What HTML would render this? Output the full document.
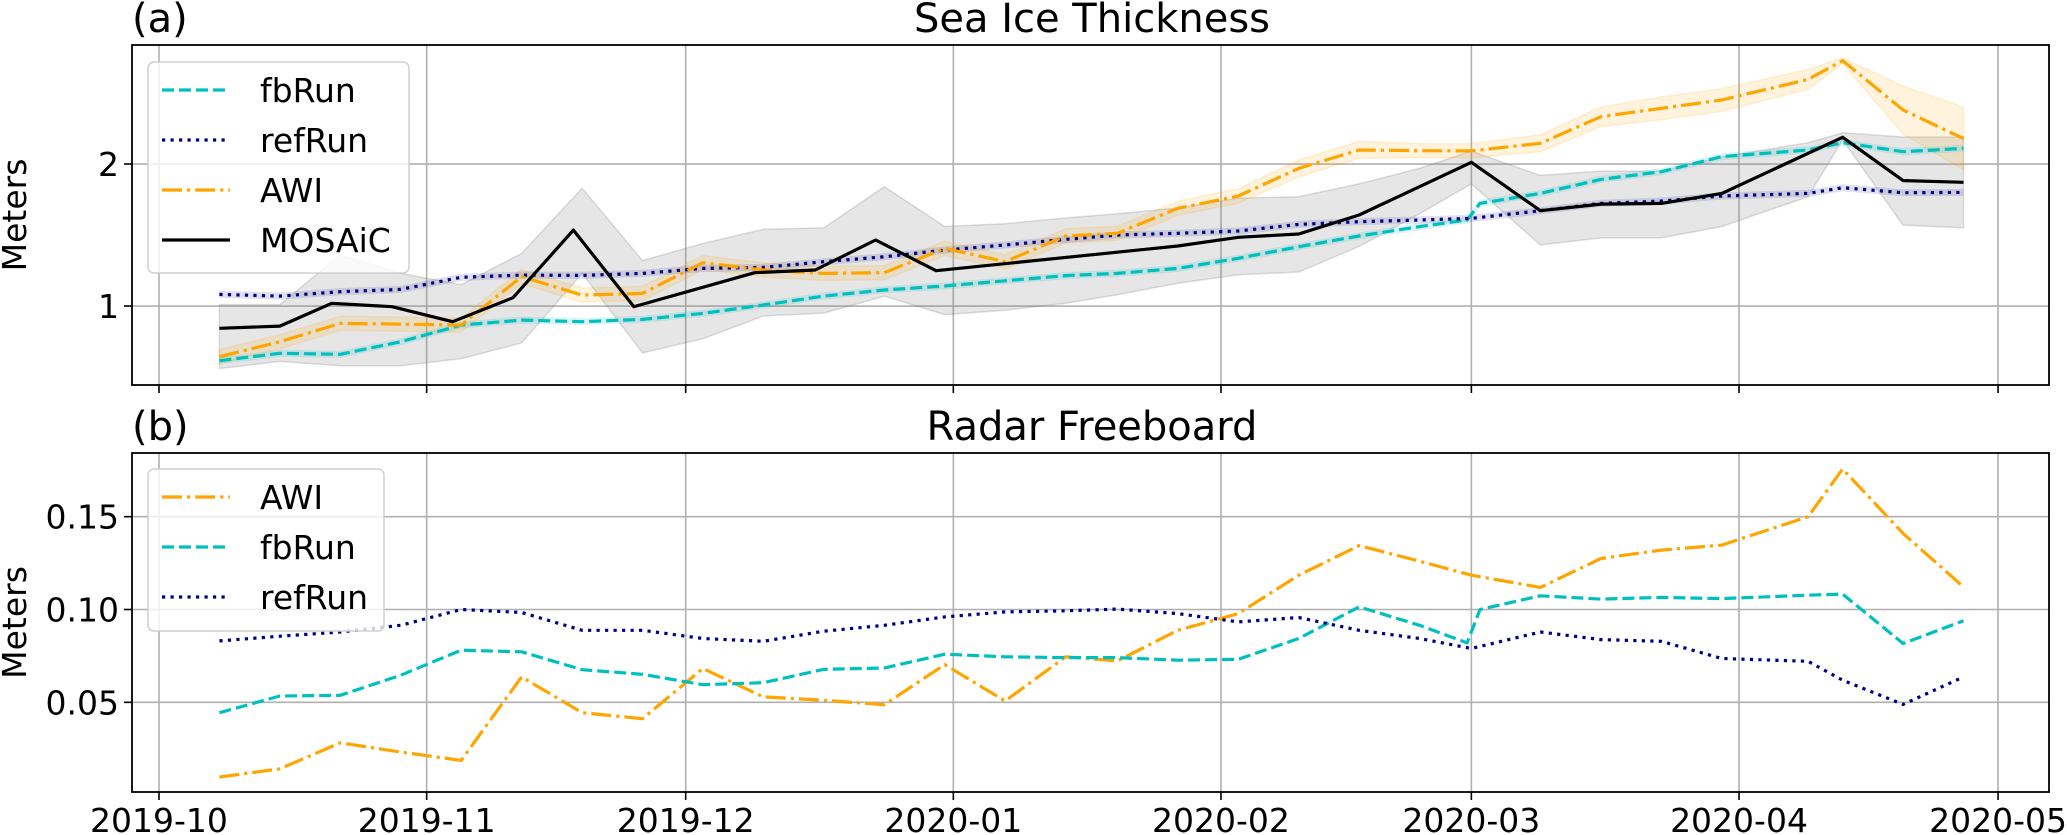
<!DOCTYPE html>
<html><head><meta charset="utf-8"><style>
html,body{margin:0;padding:0;background:#fff;}
svg{display:block;font-family:"DejaVu Sans","Liberation Sans",sans-serif;}
</style></head><body>
<svg id="chart" width="2067" height="835" viewBox="0 0 2067 835" xmlns="http://www.w3.org/2000/svg"></svg>
<script>
// ---- data (days since 2019-10-01) ----
const tickLabels = ["2019-10","2019-11","2019-12","2020-01","2020-02","2020-03","2020-04","2020-05"];
const tickDays = [0,31,61,92,123,152,183,213];
const modelDays = [7,14,21,28,35,42,49,56,63,70,77,84,91,98,105,111,118,125,132,139,146,152,160,167,174,181,191,195,202,209];
const fbDays = [7,14,21,28,35,42,49,56,63,70,77,84,91,98,105,111,118,125,132,139,146,151.5,153,160,167,174,181,191,195,202,209];
const mosaicDays = [7,14,20,27,34,41,48,55,69,76,83,90,118,125,132,139,152,160,167,174,181,195,202,209];

const thickFb = [0.615,0.667,0.66,0.749,0.866,0.901,0.89,0.906,0.948,1.007,1.07,1.113,1.141,1.178,1.214,1.23,1.265,1.336,1.418,1.493,1.559,1.606,1.723,1.793,1.892,1.946,2.052,2.099,2.15,2.087,2.11];
const thickRef = [1.082,1.07,1.101,1.117,1.202,1.218,1.216,1.23,1.265,1.272,1.312,1.347,1.394,1.43,1.469,1.5,1.512,1.528,1.575,1.594,1.606,1.617,1.671,1.723,1.739,1.775,1.793,1.833,1.798,1.8];
const thickAwi = [0.643,0.749,0.878,0.873,0.866,1.207,1.077,1.089,1.305,1.254,1.23,1.235,1.406,1.312,1.493,1.512,1.688,1.775,1.969,2.099,2.094,2.092,2.146,2.333,2.392,2.451,2.596,2.728,2.38,2.18];
const awiSpread = [0.05,0.05,0.05,0.05,0.05,0.05,0.05,0.05,0.05,0.05,0.05,0.05,0.05,0.05,0.05,0.05,0.05,0.05,0.06,0.06,0.05,0.05,0.06,0.07,0.08,0.08,0.07,0.02,0.17,0.22];
const thickMosaic = [0.843,0.859,1.019,0.995,0.890,1.059,1.535,0.995,1.235,1.254,1.465,1.249,1.423,1.484,1.507,1.641,2.012,1.671,1.718,1.723,1.793,2.188,1.883,1.871];
const mosaicHigh = [1.01,1.01,1.36,1.23,1.15,1.37,1.83,1.32,1.44,1.54,1.55,1.84,1.56,1.58,1.62,1.65,1.69,1.76,1.77,1.86,1.97,2.09,1.92,1.95,1.95,2.05,2.15,2.22,2.19,2.19];
const mosaicLow = [0.56,0.61,0.58,0.58,0.63,0.74,1.23,0.67,0.77,0.93,0.95,1.07,0.94,0.97,1.02,1.08,1.16,1.22,1.24,1.42,1.65,1.86,1.43,1.48,1.48,1.56,1.77,2.17,1.57,1.55];

const fbAwi = [0.0097,0.0142,0.0282,0.0232,0.0187,0.0637,0.0444,0.0412,0.0682,0.0529,0.0511,0.0487,0.0703,0.0507,0.0745,0.0723,0.0888,0.0978,0.1185,0.1344,0.126,0.1185,0.1119,0.1275,0.132,0.1347,0.15,0.1757,0.141,0.1122];
const fbFb = [0.0444,0.0534,0.0538,0.0646,0.0781,0.0772,0.0676,0.0651,0.0595,0.0606,0.0678,0.0685,0.0759,0.0745,0.0741,0.0741,0.0727,0.0732,0.0844,0.1014,0.0915,0.082,0.1,0.1074,0.1056,0.1065,0.1059,0.1077,0.1083,0.0817,0.0939];
const fbRef = [0.0831,0.0856,0.0879,0.0915,0.1,0.0984,0.0888,0.0888,0.0844,0.0829,0.0883,0.0915,0.096,0.0987,0.0993,0.1002,0.0978,0.0933,0.0957,0.0888,0.0844,0.079,0.0879,0.0838,0.0829,0.0736,0.0721,0.0619,0.0489,0.0637];

const yTicksA = [1,2];
const yTickLabelsA = ["1","2"];
const yTicksB = [0.05,0.10,0.15];
const yTickLabelsB = ["0.05","0.10","0.15"];

// ---- layout ----
const NS = "http://www.w3.org/2000/svg";
const svg = document.getElementById('chart');
const X0 = 132, X1 = 2049;
const FS = 33;
const xScale = d => 159 + d * 8.634;
const A = {top:45, bot:385, vTop:2.838, vBot:0.444};
const B = {top:453, bot:792, vTop:0.1843, vBot:0.0017};
const yScale = (ax, v) => ax.bot - (v - ax.vBot) / (ax.vTop - ax.vBot) * (ax.bot - ax.top);

function el(tag, attrs, parent) {
  const e = document.createElementNS(NS, tag);
  for (const k in attrs) e.setAttribute(k, attrs[k]);
  (parent || svg).appendChild(e);
  return e;
}
function pts(ax, days, vals) { return days.map((d,i)=>xScale(d).toFixed(1)+','+yScale(ax, vals[i]).toFixed(1)).join(' '); }
function band(ax, days, lo, hi, fill, stroke, name) {
  const p = days.map((d,i)=>xScale(d).toFixed(1)+','+yScale(ax, hi[i]).toFixed(1));
  for (let i=days.length-1;i>=0;i--) p.push(xScale(days[i]).toFixed(1)+','+yScale(ax, lo[i]).toFixed(1));
  const e = el('polygon', {points:p.join(' '), fill:fill, stroke:stroke, 'stroke-width':1.5});
  
  
}
function line(ax, days, vals, color, dash, name, w) {
  const e = el('polyline', {points:pts(ax, days, vals), fill:'none', stroke:color, 'stroke-width':w||3.2, 'stroke-dasharray':dash||'none', 'stroke-linejoin':'round'});
  
  
}
function text(x, y, s, attrs, name) {
  const t = el('text', Object.assign({x:x, y:y, 'font-size':FS, fill:'#000'}, attrs||{}));
  t.textContent = s;
  
  
  return t;
}
const DASH = '12,5', DOT = '3.2,5.3', DASHDOT = '20,5,3.2,5';

function axesFrame(ax, yt, ytl, tag, withXLabels) {
  tickDays.forEach((d,i)=>{
    const g = el('line', {x1:xScale(d), x2:xScale(d), y1:ax.top, y2:ax.bot, stroke:'#b0b0b0', 'stroke-width':1.6});
    
    
    el('line', {x1:xScale(d), x2:xScale(d), y1:ax.bot, y2:ax.bot+8, stroke:'#000', 'stroke-width':1.6});
    if (withXLabels) text(xScale(d), 832, tickLabels[i], {'text-anchor':'middle'}, 'x-tick-label');
  });
  yt.forEach((v,i)=>{
    const g = el('line', {x1:X0, x2:X1, y1:yScale(ax,v), y2:yScale(ax,v), stroke:'#b0b0b0', 'stroke-width':1.6});
    
    
    el('line', {x1:X0-8, x2:X0, y1:yScale(ax,v), y2:yScale(ax,v), stroke:'#000', 'stroke-width':1.6});
    text(X0-13, yScale(ax,v)+12, ytl[i], {'text-anchor':'end'}, tag+'-y-tick-label');
  });
}

// ---- panel a ----
axesFrame(A, yTicksA, yTickLabelsA, 'panel-a', false);
band(A, modelDays, mosaicLow, mosaicHigh, 'rgba(128,128,128,0.2)', 'rgba(128,128,128,0.25)', 'mosaic-band');
band(A, modelDays, thickAwi.map((v,i)=>v-awiSpread[i]), thickAwi.map((v,i)=>v+awiSpread[i]), 'rgba(255,165,0,0.13)', 'rgba(255,165,0,0.15)', 'awi-band');
band(A, modelDays, thickRef.map(v=>v-0.025), thickRef.map(v=>v+0.025), 'rgba(0,0,128,0.12)', 'none', 'refrun-band');
band(A, fbDays, thickFb.map(v=>v-0.025), thickFb.map(v=>v+0.025), 'rgba(0,191,191,0.15)', 'none', 'fbrun-band');
line(A, fbDays, thickFb, '#00bfbf', DASH, 'fbrun-thickness-line');
line(A, modelDays, thickRef, '#000080', DOT, 'refrun-thickness-line');
line(A, modelDays, thickAwi, '#ffa500', DASHDOT, 'awi-thickness-line');
line(A, mosaicDays, thickMosaic, '#000', 'none', 'mosaic-thickness-line');
el('rect', {x:X0, y:A.top, width:X1-X0, height:A.bot-A.top, fill:'none', stroke:'#000', 'stroke-width':1.8});
text(X0, 32, '(a)', {'font-size':40}, 'panel-a-label');
text(1092, 32, 'Sea Ice Thickness', {'font-size':40, 'text-anchor':'middle'}, 'panel-a-title');
const cyA = A.top+(A.bot-A.top)/2;
text(26, cyA, 'Meters', {'text-anchor':'middle', transform:'rotate(-90 26 '+cyA+')'}, 'panel-a-y-axis-title');

// legend a
const legA = el('g', {});


el('rect', {x:148, y:62, width:261, height:211, rx:6, fill:'rgba(255,255,255,0.8)', stroke:'#d0d0d0', 'stroke-width':1.5}, legA);
const legAItems = [['fbRun','#00bfbf',DASH],['refRun','#000080',DOT],['AWI','#ffa500',DASHDOT],['MOSAiC','#000','none']];
legAItems.forEach((it,i)=>{
  const y = 90 + i*50;
  el('line', {x1:162, x2:230, y1:y, y2:y, stroke:it[1], 'stroke-width':3.2, 'stroke-dasharray':it[2]}, legA);
  const t = el('text', {x:260, y:y+12, 'font-size':FS}, legA);
  t.textContent = it[0];
  
  
});

// ---- panel b ----
axesFrame(B, yTicksB, yTickLabelsB, 'panel-b', true);
line(B, modelDays, fbAwi, '#ffa500', DASHDOT, 'awi-freeboard-line');
line(B, fbDays, fbFb, '#00bfbf', DASH, 'fbrun-freeboard-line');
line(B, modelDays, fbRef, '#000080', DOT, 'refrun-freeboard-line');
el('rect', {x:X0, y:B.top, width:X1-X0, height:B.bot-B.top, fill:'none', stroke:'#000', 'stroke-width':1.8});
text(X0, 440, '(b)', {'font-size':40}, 'panel-b-label');
text(1092, 440, 'Radar Freeboard', {'font-size':40, 'text-anchor':'middle'}, 'panel-b-title');
const cyB = B.top+(B.bot-B.top)/2;
text(26, cyB, 'Meters', {'text-anchor':'middle', transform:'rotate(-90 26 '+cyB+')'}, 'panel-b-y-axis-title');

const legB = el('g', {});


el('rect', {x:148, y:469, width:236, height:162, rx:6, fill:'rgba(255,255,255,0.8)', stroke:'#d0d0d0', 'stroke-width':1.5}, legB);
const legBItems = [['AWI','#ffa500',DASHDOT],['fbRun','#00bfbf',DASH],['refRun','#000080',DOT]];
legBItems.forEach((it,i)=>{
  const y = 497 + i*50;
  el('line', {x1:162, x2:230, y1:y, y2:y, stroke:it[1], 'stroke-width':3.2, 'stroke-dasharray':it[2]}, legB);
  const t = el('text', {x:260, y:y+12, 'font-size':FS}, legB);
  t.textContent = it[0];
  
  
});
</script>
</body></html>
